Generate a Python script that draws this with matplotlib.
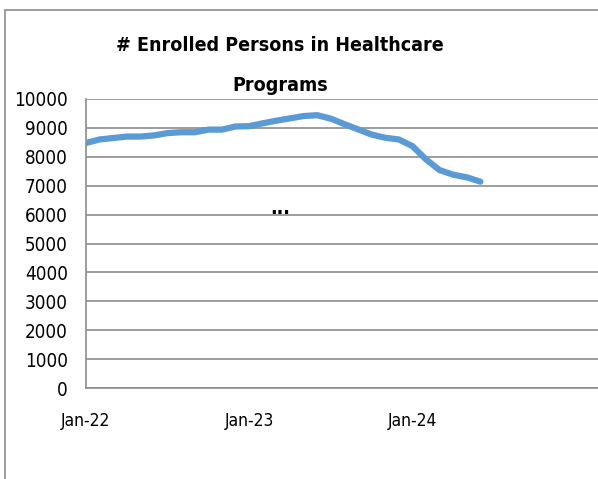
import matplotlib
matplotlib.use("Agg")
import matplotlib.pyplot as plt
from matplotlib.patches import Rectangle

# monthly enrolment, Jan-22 .. Jun-24
months = ["Jan-22", "Feb-22", "Mar-22", "Apr-22", "May-22", "Jun-22",
          "Jul-22", "Aug-22", "Sep-22", "Oct-22", "Nov-22", "Dec-22",
          "Jan-23", "Feb-23", "Mar-23", "Apr-23", "May-23", "Jun-23",
          "Jul-23", "Aug-23", "Sep-23", "Oct-23", "Nov-23", "Dec-23",
          "Jan-24", "Feb-24", "Mar-24", "Apr-24", "May-24", "Jun-24"]
enrolled = [8480, 8600, 8650, 8700, 8700, 8740, 8820, 8850, 8850, 8940,
            8940, 9050, 9060, 9160, 9250, 9330, 9410, 9440, 9320, 9130,
            8950, 8770, 8660, 8600, 8370, 7910, 7540, 7380, 7290, 7140]
tick_labels = ["Jan-22", "Jan-23", "Jan-24"]
y_ticks = list(range(0, 10001, 1000))

plt.rcParams['font.family'] = ['DejaVu Sans']
plt.rcParams['font.stretch'] = 'condensed'

fig = plt.figure(figsize=(5.98, 4.79), dpi=100)

# outer chart frame, cut off at right and bottom
fig.patches.append(Rectangle((5 / 598, -0.5), 2.0, 1.5 - 10 / 479,
                             transform=fig.transFigure, fill=False,
                             edgecolor='#8c8c8c', linewidth=1.2))

ax = fig.add_axes([86 / 598, 1 - 388 / 479, 512 / 598, 289 / 479])
x = list(range(len(months)))
ax.plot(x, enrolled, color='#5b9bd5', linewidth=4.5, solid_capstyle='round',
        solid_joinstyle='round')

ax.set_xlim(0, 512 / 13.6)
ax.set_ylim(0, 10000)
ax.set_yticks(y_ticks)
ax.set_yticklabels([str(v) for v in y_ticks], fontsize=13.5)
ax.set_xticks([months.index(t) for t in tick_labels])
ax.set_xticklabels(tick_labels, fontsize=12.5)
ax.tick_params(axis='both', length=0)
ax.tick_params(axis='y', pad=13)
ax.tick_params(axis='x', pad=17)
ax.grid(axis='y', color='#8c8c8c', linewidth=1.2)
ax.set_axisbelow(True)
for side in ['top', 'right']:
    ax.spines[side].set_visible(False)
for side in ['left', 'bottom']:
    ax.spines[side].set_color('#8c8c8c')
    ax.spines[side].set_linewidth(1.2)

fig.text(280 / 598, 1 - 51 / 479, "# Enrolled Persons in Healthcare",
         ha='center', va='baseline', fontsize=14, fontweight='bold')
fig.text(280 / 598, 1 - 91 / 479, "Programs",
         ha='center', va='baseline', fontsize=14, fontweight='bold')
fig.text(280 / 598, 1 - 214 / 479, "...", ha='center', va='baseline',
         fontsize=14, fontweight='bold')

fig.savefig("out.png", dpi=100)
